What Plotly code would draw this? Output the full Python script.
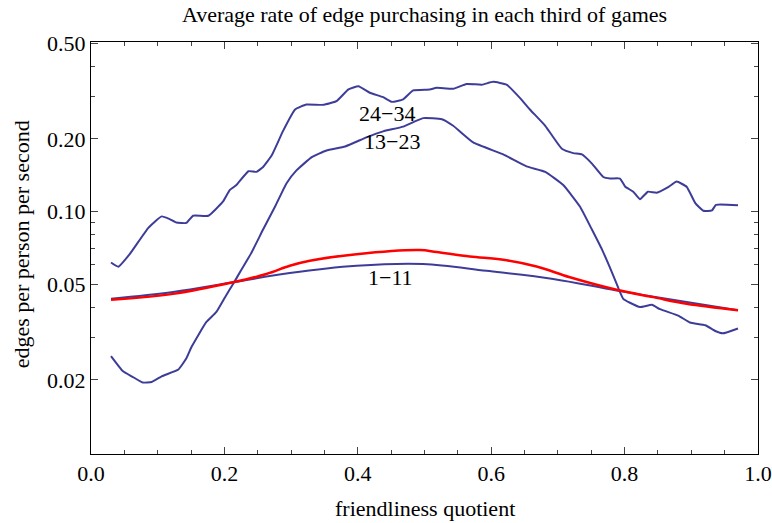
import numpy as np
import plotly.graph_objects as go

# ---- data ----
x_24_34 = [0.030, 0.041, 0.058, 0.086, 0.106, 0.118, 0.128, 0.143, 0.153, 0.176, 0.198, 0.208,
           0.218, 0.236, 0.248, 0.258, 0.271, 0.288, 0.306, 0.323, 0.348, 0.368, 0.386, 0.401,
           0.418, 0.438, 0.451, 0.468, 0.483, 0.508, 0.518, 0.543, 0.563, 0.586, 0.603, 0.623,
           0.643, 0.658, 0.681, 0.706, 0.723, 0.736, 0.751, 0.768, 0.778, 0.793, 0.801, 0.813,
           0.823, 0.835, 0.848, 0.866, 0.878, 0.893, 0.906, 0.918, 0.931, 0.937, 0.970]
y_24_34 = [0.0614, 0.0590, 0.0665, 0.0855, 0.0954, 0.0930, 0.0900, 0.0896, 0.0960, 0.0960, 0.1100, 0.1227,
           0.1287, 0.1469, 0.1460, 0.1530, 0.1710, 0.2160, 0.2650, 0.2780, 0.2770, 0.2870, 0.3210, 0.3310,
           0.3110, 0.2980, 0.2850, 0.2920, 0.3180, 0.3210, 0.3260, 0.3230, 0.3380, 0.3360, 0.3450, 0.3360,
           0.2960, 0.2650, 0.2268, 0.1820, 0.1746, 0.1724, 0.1580, 0.1390, 0.1370, 0.1370, 0.1266, 0.1208,
           0.1124, 0.1208, 0.1197, 0.1266, 0.1330, 0.1266, 0.1083, 0.1007, 0.1010, 0.1065, 0.1060]

x_13_23 = [0.030, 0.048, 0.061, 0.0775, 0.091, 0.106, 0.131, 0.143, 0.151, 0.173, 0.188, 0.201,
           0.213, 0.225, 0.240, 0.258, 0.276, 0.293, 0.308, 0.331, 0.353, 0.381, 0.413, 0.438,
           0.468, 0.498, 0.526, 0.543, 0.573, 0.618, 0.653, 0.681, 0.708, 0.733, 0.751, 0.766,
           0.781, 0.791, 0.798, 0.808, 0.823, 0.841, 0.853, 0.881, 0.898, 0.921, 0.936, 0.947, 0.970]
y_13_23 = [0.0251, 0.0217, 0.0207, 0.0195, 0.0196, 0.0207, 0.0221, 0.0246, 0.0275, 0.0348, 0.0383, 0.0441,
           0.0500, 0.0570, 0.0670, 0.0841, 0.1048, 0.1307, 0.1480, 0.1680, 0.1790, 0.1860, 0.2030, 0.2150,
           0.2250, 0.2440, 0.2415, 0.2268, 0.1934, 0.1725, 0.1538, 0.1460, 0.1287, 0.1048, 0.0841, 0.0696,
           0.0559, 0.0478, 0.0434, 0.0418, 0.0401, 0.0410, 0.0393, 0.0369, 0.0346, 0.0337, 0.0319, 0.0312, 0.0327]

x_1_11 = [0.030, 0.123, 0.213, 0.298, 0.398, 0.498, 0.593, 0.693, 0.788, 0.893, 0.970]
y_1_11 = [0.0434, 0.0463, 0.0508, 0.0555, 0.0595, 0.0605, 0.0567, 0.0525, 0.0470, 0.0421, 0.0389]

x_red = [0.030, 0.123, 0.213, 0.263, 0.298, 0.328, 0.398, 0.493, 0.518, 0.568, 0.618, 0.668,
         0.718, 0.788, 0.843, 0.893, 0.970]
y_red = [0.0430, 0.0455, 0.0508, 0.0550, 0.0595, 0.0624, 0.0665, 0.0692, 0.0679, 0.0650, 0.0630, 0.0591,
         0.0533, 0.0473, 0.0441, 0.0414, 0.0389]

x_tick_vals = [0.0, 0.2, 0.4, 0.6, 0.8, 1.0]
x_tick_text = ["0.0", "0.2", "0.4", "0.6", "0.8", "1.0"]
x_minor_vals = [0.05, 0.1, 0.15, 0.25, 0.3, 0.35, 0.45, 0.5, 0.55, 0.65, 0.7, 0.75, 0.85, 0.9, 0.95]
y_tick_vals = [0.02, 0.05, 0.10, 0.20, 0.50]
y_tick_text = ["0.02", "0.05", "0.10", "0.20", "0.50"]
y_minor_vals = [0.03, 0.04, 0.06, 0.07, 0.08, 0.09, 0.3, 0.4]

labels = ["24\u221234", "13\u221223", "1\u221211"]
label_x = [0.4435, 0.451, 0.4495]
label_y = [0.256, 0.1954, 0.053]

BLUE = "#3D3D99"
RED = "#FF0000"
FONT = "Liberation Serif, Times New Roman, serif"

fig = go.Figure()
fig.add_trace(go.Scatter(x=x_24_34, y=y_24_34, mode="lines",
                         line=dict(color=BLUE, width=2, shape="spline", smoothing=0.4)))
fig.add_trace(go.Scatter(x=x_13_23, y=y_13_23, mode="lines",
                         line=dict(color=BLUE, width=2, shape="spline", smoothing=0.4)))
fig.add_trace(go.Scatter(x=x_1_11, y=y_1_11, mode="lines",
                         line=dict(color=BLUE, width=2, shape="spline", smoothing=1.0)))
fig.add_trace(go.Scatter(x=x_red, y=y_red, mode="lines",
                         line=dict(color=RED, width=2.5, shape="spline", smoothing=1.0)))

for t, lx, ly in zip(labels, label_x, label_y):
    fig.add_annotation(x=lx, y=np.log10(ly), xref="x", yref="y", text=t, showarrow=False,
                       font=dict(family=FONT, size=22, color="black"))

fig.add_annotation(x=0.5, y=-0.133, xref="paper", yref="paper", text="friendliness quotient",
                   showarrow=False, xanchor="center", yanchor="middle",
                   font=dict(family=FONT, size=22, color="black"))
fig.add_annotation(x=-0.104, y=0.508, xref="paper", yref="paper", text="edges per person per second",
                   showarrow=False, textangle=-90, xanchor="center", yanchor="middle",
                   font=dict(family=FONT, size=22, color="black"))

axis_common = dict(showline=True, linecolor="black", linewidth=1, mirror="ticks",
                   ticks="inside", ticklen=7, tickcolor="#444", tickwidth=1,
                   showgrid=False, zeroline=False, automargin=False,
                   tickfont=dict(family=FONT, size=22, color="black"))

fig.update_xaxes(range=[0, 1], tickvals=x_tick_vals, ticktext=x_tick_text,
                 minor=dict(tickvals=x_minor_vals, ticks="inside", ticklen=4, tickcolor="#444"),
                 **axis_common)
fig.update_yaxes(type="log", range=[np.log10(0.00985), np.log10(0.505)],
                 tickvals=y_tick_vals, ticktext=y_tick_text,
                 minor=dict(tickvals=y_minor_vals, ticks="inside", ticklen=4, tickcolor="#444"),
                 **axis_common)

fig.update_layout(
    width=772, height=523,
    margin=dict(l=91, r=14, t=42, b=69, autoexpand=False),
    paper_bgcolor="white", plot_bgcolor="white",
    showlegend=False,
    title=dict(text="Average rate of edge purchasing in each third of games",
               x=0.5, xref="paper", y=1 - 14 / 523, yref="container", yanchor="middle",
               font=dict(family=FONT, size=22, color="black")),
)

fig.write_html("out.html", config={"displayModeBar": False},
               post_script="document.body.style.margin='0';document.body.style.padding='0';")
